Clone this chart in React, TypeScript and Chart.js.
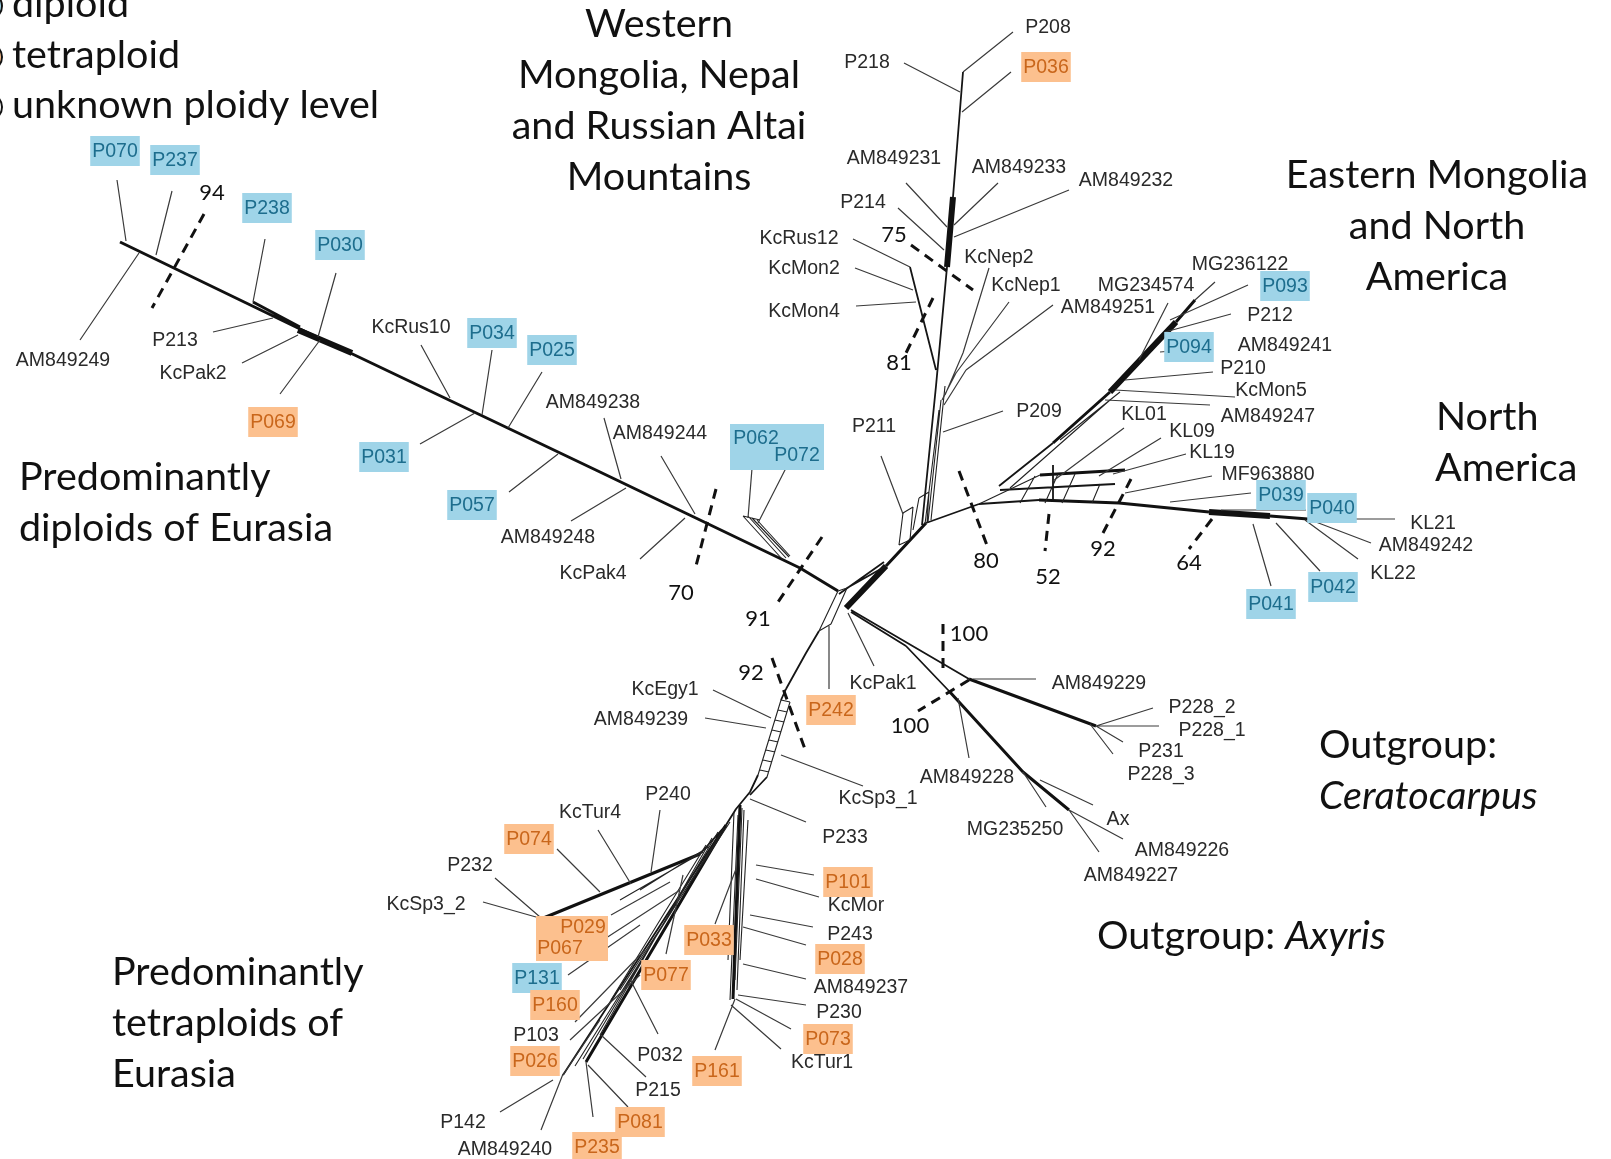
import React, { useEffect, useRef } from "react";
import { Chart, registerables } from "chart.js";

Chart.register(...registerables);

const W = 1611;
const H = 1159;

// ---- network edges: [x1, y1, x2, y2] in figure units ----
const heavyEdges: number[][] = [
  [298, 330, 352, 353],
  [947, 267, 953, 197],
  [1209, 512, 1270, 516],
  [846, 608, 886, 566],
  [1110, 392, 1176, 322],
];

const midEdges: number[][] = [
  [120, 242, 300, 329],
  [300, 329, 600, 472],
  [600, 472, 800, 568],
  [253, 302, 300, 327],
  [800, 568, 838, 591],
  [886, 566, 926, 523],
  [969, 679, 1096, 726],
  [949, 691, 1023, 772],
  [1023, 772, 1069, 810],
  [1039, 500, 1119, 503],
  [1119, 503, 1209, 512],
  [1270, 516, 1308, 519],
  [1053, 443, 1110, 392],
  [1176, 322, 1195, 300],
  [1040, 475, 1125, 470],
  [700, 854, 541, 919],
  [726, 825, 586, 1062],
  [740, 805, 733, 999],
];

const lightEdges: number[][] = [
  [839, 594, 884, 562],
  [847, 588, 886, 566],
  [922, 525, 936, 386],
  [936, 386, 947, 267],
  [953, 197, 963, 72],
  [910, 267, 936, 370],
  [926, 523, 979, 504],
  [979, 504, 1039, 500],
  [999, 486, 1053, 443],
  [1000, 490, 1115, 484],
  [1053, 465, 1053, 500],
  [851, 610, 969, 679],
  [851, 612, 906, 646],
  [906, 646, 949, 691],
  [819, 631, 806, 653],
  [806, 653, 786, 689],
  [786, 689, 781, 700],
  [758, 775, 750, 792],
  [767, 777, 750, 795],
  [750, 792, 736, 809],
  [736, 809, 726, 825],
  [726, 825, 700, 854],
  [722, 830, 563, 1075],
];

const reticulations: number[][] = [
  // centre box
  [838, 591, 847, 588], [847, 588, 831, 624], [831, 624, 819, 631], [819, 631, 838, 591],
  // boxes under P211
  [899, 545, 903, 513], [903, 513, 913, 507], [913, 507, 910, 540], [910, 540, 899, 545],
  [913, 530, 919, 498], [919, 498, 929, 492], [929, 492, 927, 523],
  [928, 522, 941, 400], [931, 520, 945, 386], [925, 524, 939, 410],
  // hatch under P062/P072
  [743, 516, 783, 560], [748, 516, 786, 558], [752, 518, 789, 557], [757, 520, 790, 556], [743, 516, 760, 520],
  // ladder on the tetraploid stem
  [781, 700, 758, 775], [790, 702, 767, 777],
  [781, 700, 790, 702], [778, 710, 787, 712], [775, 720, 784, 722], [772, 730, 781, 732],
  [769, 740, 778, 742], [766, 750, 775, 752], [763, 760, 772, 762], [760, 770, 769, 772],
  // North American ladder
  [979, 504, 1040, 475], [1020, 503, 1035, 476], [1045, 503, 1058, 474], [1062, 503, 1075, 474],
  [1010, 488, 1110, 400], [1092, 503, 1100, 484], [1060, 440, 1120, 392],
  // tetraploid fans
  [718, 832, 583, 1059], [712, 838, 600, 1035], [706, 845, 611, 1000], [730, 822, 620, 990],
  [744, 810, 737, 990], [738, 815, 730, 1000], [748, 820, 740, 960], [734, 812, 728, 960],
  [703, 852, 620, 900], [710, 846, 640, 890], [724, 828, 575, 1066], [742, 808, 735, 980],
];

const leafEdges: number[][] = [
  [117, 180, 126, 241], [172, 191, 156, 255], [139, 253, 80, 340], [265, 239, 253, 302],
  [336, 273, 318, 337], [320, 340, 280, 394], [213, 332, 273, 318], [242, 363, 298, 335],
  [421, 345, 450, 398], [492, 350, 482, 415], [542, 372, 508, 428], [420, 444, 475, 413],
  [509, 492, 558, 454], [604, 418, 621, 479], [571, 521, 626, 488], [661, 456, 695, 514],
  [640, 559, 685, 518], [753, 456, 748, 518], [786, 468, 758, 523],
  [829, 626, 829, 689], [848, 613, 874, 666], [713, 690, 771, 718], [705, 718, 766, 728],
  [881, 456, 903, 514],
  [973, 679, 1036, 679], [1096, 726, 1153, 708], [1096, 726, 1159, 726], [1096, 726, 1123, 742],
  [1090, 724, 1113, 754], [958, 698, 969, 758], [1069, 810, 1099, 852], [1069, 810, 1123, 839],
  [1040, 780, 1093, 805], [1023, 772, 1046, 807],
  [904, 63, 960, 92], [963, 72, 1013, 32], [962, 112, 1011, 72], [906, 183, 947, 227],
  [998, 183, 954, 225], [1069, 190, 954, 237], [898, 208, 944, 250], [853, 239, 910, 267],
  [855, 268, 913, 290], [856, 306, 916, 302], [989, 268, 963, 353], [963, 353, 945, 395],
  [1009, 302, 956, 373], [956, 373, 942, 400], [1053, 305, 966, 370], [966, 370, 944, 405],
  [1003, 411, 943, 432],
  [1308, 519, 1395, 519], [1308, 519, 1371, 543], [1305, 520, 1358, 559], [1276, 523, 1320, 571],
  [1253, 524, 1271, 586], [1221, 510, 1306, 510], [1170, 502, 1251, 493], [1125, 493, 1212, 476],
  [1113, 474, 1186, 454], [1099, 476, 1161, 438], [1053, 481, 1124, 428],
  [1195, 300, 1215, 282], [1170, 320, 1248, 285], [1165, 332, 1231, 314], [1139, 360, 1168, 303],
  [1160, 352, 1208, 348], [1125, 380, 1213, 372], [1115, 390, 1235, 397], [1105, 400, 1210, 405],
  [495, 878, 540, 917], [483, 902, 536, 917], [557, 849, 600, 892], [598, 830, 631, 884],
  [660, 810, 651, 872], [611, 915, 670, 882], [603, 940, 680, 890], [568, 975, 640, 925],
  [575, 1022, 645, 950], [570, 1040, 640, 975], [563, 1075, 600, 1020], [500, 1112, 553, 1080],
  [541, 1130, 563, 1074], [593, 1117, 586, 1062], [628, 1107, 588, 1065], [646, 1077, 601, 1035],
  [658, 1034, 630, 979], [666, 954, 683, 875], [715, 924, 736, 869], [715, 1050, 735, 999],
  [738, 995, 806, 1005], [736, 999, 791, 1029], [731, 1005, 781, 1049], [743, 964, 806, 979],
  [743, 927, 806, 945], [750, 915, 813, 927], [756, 879, 819, 897], [756, 865, 814, 875],
  [750, 799, 806, 822], [781, 755, 863, 786],
];

// ---- bootstrap support: dashed cut lines and values ----
const supportDashes: number[][] = [
  [204, 214, 152, 308], [716, 489, 696, 566], [822, 537, 776, 605], [772, 658, 806, 752],
  [911, 245, 973, 290], [933, 298, 906, 353], [959, 471, 988, 548], [1049, 514, 1045, 551],
  [1131, 479, 1103, 533], [1212, 519, 1189, 549], [943, 624, 943, 674], [969, 680, 918, 711],
];
const supportValues: [string, number, number][] = [
  ["94", 212, 193], ["70", 681, 593], ["91", 758, 619], ["92", 751, 673],
  ["75", 894, 235], ["81", 899, 363], ["80", 986, 561], ["52", 1048, 577],
  ["92", 1103, 549], ["64", 1189, 563], ["100", 969, 634], ["100", 910, 726],
];

// ---- taxon labels: [text, x, y, kind]  n=plain, b=blue box, o=orange box, bt/ot=coloured text only ----
const taxonLabels: [string, number, number, string][] = [
  ["AM849249", 63, 360, "n"], ["P213", 175, 340, "n"], ["KcPak2", 193, 373, "n"], ["KcRus10", 411, 327, "n"],
  ["AM849238", 593, 402, "n"], ["AM849244", 660, 433, "n"], ["AM849248", 548, 537, "n"], ["KcPak4", 593, 573, "n"],
  ["P211", 874, 426, "n"], ["P209", 1039, 411, "n"], ["P218", 867, 62, "n"], ["P208", 1048, 27, "n"],
  ["AM849231", 894, 158, "n"], ["AM849233", 1019, 167, "n"], ["AM849232", 1126, 180, "n"], ["P214", 863, 202, "n"],
  ["KcRus12", 799, 238, "n"], ["KcMon2", 804, 268, "n"], ["KcMon4", 804, 311, "n"], ["KcNep2", 999, 257, "n"],
  ["KcNep1", 1026, 285, "n"], ["AM849251", 1108, 307, "n"], ["MG234574", 1146, 285, "n"], ["MG236122", 1240, 264, "n"],
  ["P212", 1270, 315, "n"], ["AM849241", 1285, 345, "n"], ["P210", 1243, 368, "n"], ["KcMon5", 1271, 390, "n"],
  ["AM849247", 1268, 416, "n"], ["KL01", 1144, 414, "n"], ["KL09", 1192, 431, "n"], ["KL19", 1212, 452, "n"],
  ["MF963880", 1268, 474, "n"], ["KL21", 1433, 523, "n"], ["AM849242", 1426, 545, "n"], ["KL22", 1393, 573, "n"],
  ["KcPak1", 883, 683, "n"], ["AM849229", 1099, 683, "n"], ["P228_2", 1202, 707, "n"], ["P228_1", 1212, 730, "n"],
  ["P231", 1161, 751, "n"], ["P228_3", 1161, 774, "n"], ["AM849228", 967, 777, "n"], ["MG235250", 1015, 829, "n"],
  ["Ax", 1118, 819, "n"], ["AM849226", 1182, 850, "n"], ["AM849227", 1131, 875, "n"], ["KcEgy1", 665, 689, "n"],
  ["AM849239", 641, 719, "n"], ["KcSp3_1", 878, 798, "n"], ["P233", 845, 837, "n"], ["KcMor", 856, 905, "n"],
  ["P243", 850, 934, "n"], ["AM849237", 861, 987, "n"], ["P230", 839, 1012, "n"], ["KcTur1", 822, 1062, "n"],
  ["P240", 668, 794, "n"], ["KcTur4", 590, 812, "n"], ["P232", 470, 865, "n"], ["KcSp3_2", 426, 904, "n"],
  ["P103", 536, 1035, "n"], ["P032", 660, 1055, "n"], ["P215", 658, 1090, "n"], ["P142", 463, 1122, "n"],
  ["AM849240", 505, 1149, "n"],
  ["P070", 115, 151, "b"], ["P237", 175, 160, "b"], ["P238", 267, 208, "b"], ["P030", 340, 245, "b"],
  ["P034", 492, 333, "b"], ["P025", 552, 350, "b"], ["P031", 384, 457, "b"], ["P057", 472, 505, "b"],
  ["P093", 1285, 286, "b"], ["P094", 1189, 347, "b"], ["P039", 1281, 495, "b"], ["P040", 1332, 508, "b"],
  ["P041", 1271, 604, "b"], ["P042", 1333, 587, "b"], ["P131", 537, 978, "b"],
  ["P062", 756, 438, "bt"], ["P072", 797, 455, "bt"],
  ["P036", 1046, 67, "o"], ["P069", 273, 422, "o"], ["P242", 831, 710, "o"], ["P074", 529, 839, "o"],
  ["P160", 555, 1005, "o"], ["P026", 535, 1061, "o"], ["P077", 666, 975, "o"], ["P033", 709, 940, "o"],
  ["P161", 717, 1071, "o"], ["P101", 848, 882, "o"], ["P028", 840, 959, "o"], ["P073", 828, 1039, "o"],
  ["P081", 640, 1122, "o"], ["P235", 597, 1147, "o"],
  ["P029", 583, 927, "ot"], ["P067", 560, 948, "ot"],
];
const sharedBoxes: [number, number, number, number, string][] = [
  [730, 424, 824, 470, "b"],
  [536, 916, 608, 961, "o"],
];

// ---- region titles: [plain, italic, x, baseline, align] ----
const regionTitles: [string, string, number, number, string][] = [
  ["Western", "", 659, 37, "center"],
  ["Mongolia, Nepal", "", 659, 88, "center"],
  ["and Russian Altai", "", 659, 139, "center"],
  ["Mountains", "", 659, 190, "center"],
  ["Eastern Mongolia", "", 1437, 188, "center"],
  ["and North", "", 1437, 239, "center"],
  ["America", "", 1437, 290, "center"],
  ["North", "", 1436, 430, "left"],
  ["America", "", 1435, 481, "left"],
  ["Outgroup:", "", 1319, 758, "left"],
  ["", "Ceratocarpus", 1319, 809, "left"],
  ["Outgroup: ", "Axyris", 1097, 949, "left"],
  ["Predominantly", "", 19, 490, "left"],
  ["diploids of Eurasia", "", 19, 541, "left"],
  ["Predominantly", "", 112, 985, "left"],
  ["tetraploids of", "", 112, 1036, "left"],
  ["Eurasia", "", 112, 1087, "left"],
];
const legendItems: [string, string, number][] = [
  ["diploid", "#9fd4e8", 17],
  ["tetraploid", "#fcc08e", 68],
  ["unknown ploidy level", "#ffffff", 118],
];

const BLUE_FILL = "#9fd4e8";
const BLUE_TEXT = "#1d6d8d";
const ORANGE_FILL = "#fcc08e";
const ORANGE_TEXT = "#c9661b";
const TITLE_FONT = "Lato, 'Open Sans', sans-serif";
const TITLE_SIZE = 39.5;
const LABEL_FONT = "'Liberation Sans', Arial, sans-serif";

function toPoints(segs: number[][]) {
  const pts: { x: number; y: number | null }[] = [];
  for (const [x1, y1, x2, y2] of segs) {
    pts.push({ x: x1, y: y1 }, { x: x2, y: y2 }, { x: x2, y: null });
  }
  return pts;
}

function lineSet(segs: number[][], width: number, color: string, dash: number[] = []) {
  return {
    data: toPoints(segs),
    showLine: true,
    borderColor: color,
    borderWidth: width,
    borderDash: dash,
    pointRadius: 0,
    pointHoverRadius: 0,
    fill: false,
    tension: 0,
    spanGaps: false,
  };
}

const labelPlugin = {
  id: "networkLabels",
  afterDatasetsDraw(chart: any) {
    const ctx = chart.ctx as CanvasRenderingContext2D;
    const xs = chart.scales.x;
    const ys = chart.scales.y;
    const px = (v: number) => xs.getPixelForValue(v);
    const py = (v: number) => ys.getPixelForValue(v);
    ctx.save();

    // shared label boxes
    for (const [x1, y1, x2, y2, k] of sharedBoxes) {
      ctx.fillStyle = k === "b" ? BLUE_FILL : ORANGE_FILL;
      ctx.fillRect(px(x1), py(y1), px(x2) - px(x1), py(y2) - py(y1));
    }

    // taxon labels
    ctx.font = `19.5px ${LABEL_FONT}`;
    ctx.textAlign = "center";
    ctx.textBaseline = "middle";
    for (const [t, x, y, k] of taxonLabels) {
      const cx = px(x);
      const cy = py(y);
      if (k === "b" || k === "o") {
        const w = ctx.measureText(t).width + 4;
        ctx.fillStyle = k === "b" ? BLUE_FILL : ORANGE_FILL;
        ctx.fillRect(cx - w / 2, cy - 15, w, 30);
      }
    }
    for (const [t, x, y, k] of taxonLabels) {
      ctx.fillStyle = k[0] === "b" ? BLUE_TEXT : k[0] === "o" ? ORANGE_TEXT : "#2a2a2a";
      ctx.fillText(t, px(x), py(y) + 1);
    }

    // support values
    ctx.font = `22px ${TITLE_FONT}`;
    ctx.fillStyle = "#111";
    for (const [t, x, y] of supportValues) ctx.fillText(t, px(x), py(y));

    // region titles
    ctx.textBaseline = "alphabetic";
    ctx.fillStyle = "#111";
    for (const [plain, ital, x, y, align] of regionTitles) {
      ctx.font = `${TITLE_SIZE}px ${TITLE_FONT}`;
      const wp = plain ? ctx.measureText(plain).width : 0;
      ctx.font = `italic ${TITLE_SIZE}px ${TITLE_FONT}`;
      const wi = ital ? ctx.measureText(ital).width : 0;
      let sx = px(x);
      if (align === "center") sx -= (wp + wi) / 2;
      ctx.textAlign = "left";
      if (plain) {
        ctx.font = `${TITLE_SIZE}px ${TITLE_FONT}`;
        ctx.fillText(plain, sx, py(y));
      }
      if (ital) {
        ctx.font = `italic ${TITLE_SIZE}px ${TITLE_FONT}`;
        ctx.fillText(ital, sx + wp, py(y));
      }
    }

    // legend (partly cut at the left edge)
    ctx.font = `${TITLE_SIZE}px ${TITLE_FONT}`;
    for (const [t, col, y] of legendItems) {
      ctx.beginPath();
      ctx.arc(px(-11), py(y - 11), 13, 0, Math.PI * 2);
      ctx.fillStyle = col;
      ctx.fill();
      ctx.lineWidth = 2;
      ctx.strokeStyle = "#111";
      ctx.stroke();
      ctx.fillStyle = "#111";
      ctx.fillText(t, px(12), py(y));
    }
    ctx.restore();
  },
};

export default function App() {
  const ref = useRef<HTMLCanvasElement | null>(null);

  useEffect(() => {
    if (!ref.current) return;
    const chart = new Chart(ref.current, {
      type: "scatter",
      data: {
        datasets: [
          lineSet(leafEdges, 1.2, "#3a3a3a"),
          lineSet(reticulations, 1.1, "#222"),
          lineSet(lightEdges, 1.8, "#151515"),
          lineSet(midEdges, 3, "#111"),
          lineSet(heavyEdges, 6, "#111"),
          lineSet(supportDashes, 3, "#111", [10, 7]),
        ] as any,
      },
      options: {
        responsive: false,
        animation: false,
        events: [],
        layout: { padding: 0 },
        plugins: { legend: { display: false }, tooltip: { enabled: false } },
        scales: {
          x: { type: "linear", min: 0, max: W, display: false },
          y: { type: "linear", min: 0, max: H, reverse: true, display: false },
        },
      },
      plugins: [labelPlugin],
    });
    return () => chart.destroy();
  }, []);

  return (
    <div style={{ position: "absolute", left: 0, top: 0, width: W, height: H, background: "#fff" }}>
      <canvas ref={ref} width={W} height={H} style={{ display: "block", width: W, height: H }} />
    </div>
  );
}
